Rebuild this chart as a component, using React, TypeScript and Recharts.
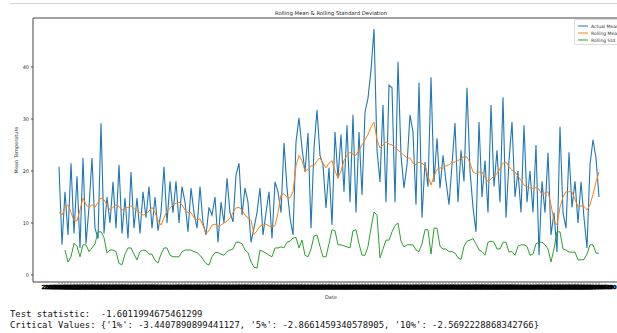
import { Line, LineChart, ReferenceLine, XAxis, YAxis } from "recharts";

// daily values
const actualMean = [
  20.8, 5.8, 16, 7.7, 21.5, 8, 19, 5.2, 22.5, 6,
  13, 22.5, 9, 7, 29.2, 8, 15, 10, 17.9, 9,
  21.2, 8, 14.8, 7, 19.8, 9, 14.8, 8, 16, 11,
  17, 9, 15, 8.5, 12, 20.8, 10, 18, 12, 18,
  10, 17, 14, 8.3, 16.7, 12, 9, 17, 10, 7.7,
  13, 11.5, 15, 6.3, 14, 10, 18.6, 12, 10.2, 19.2,
  21.5, 11.5, 16.7, 14, 6.3, 9, 12, 16.7, 7.7, 12,
  16, 7, 17.9, 16, 12, 25.4, 16.7, 11, 7.7, 25.6,
  30.2, 24.4, 19.8, 27.3, 9, 24.4, 31.7, 23, 21.2, 12.9,
  20.6, 9.6, 27.5, 18.6, 27, 16, 28.8, 14, 30.8, 12,
  27.5, 15.4, 31.3, 34, 39.4, 47.3, 24, 17.9, 32.7, 14,
  36.5, 36, 14, 41, 23, 16.7, 21.2, 30.8, 27.5, 13.5,
  37, 11, 21.7, 17, 38, 17.9, 26.3, 16.7, 23, 18,
  13.5, 21.2, 29.2, 14, 24, 18, 36, 20, 13, 8.3,
  29.4, 15, 22, 12, 32.7, 17, 24, 14, 34.2, 11,
  22, 29.4, 15, 20, 12, 28.8, 14, 20, 12, 25,
  3.8, 18, 12, 23.5, 7.7, 12, 4.4, 28.5, 12, 9,
  23.6, 13, 18, 10, 17.9, 11, 5.2, 21.2, 26, 22.5, 15,
];

const rollingMean = [
  12, 11.5, 13, 13.5, 12, 10.5, 10.4, 12.5, 14.8, 13.5,
  13, 13.5, 13, 14, 14.8, 14.5, 13.5, 12.5, 13, 13.5,
  13.2, 12.5, 12.8, 13, 13.3, 12.8, 12.3, 12, 11.5, 11.7,
  12.3, 13, 12, 10.5, 9.6, 11, 12.3, 12.8, 13.5, 13.8,
  14, 13.5, 12.5, 12, 12, 11, 10.6, 10.8, 9.5, 8,
  8.5, 9.6, 9.8, 9.3, 9.6, 10, 10.3, 11, 12, 12.9,
  13, 12.5, 11.5, 11, 10.5, 7.8, 8.5, 9.4, 9.6, 9.8,
  9.4, 9.2, 9.5, 12, 15.4, 15.6, 15, 14.8, 16, 21,
  23, 22, 20, 20.3, 21, 21, 22, 22.5, 21.5, 20.6,
  21.5, 22, 20, 18.6, 20, 22, 23, 23.6, 23.2, 23,
  24, 25, 26, 27, 28.5, 29.4, 26, 24.4, 25, 25.6,
  25.2, 25, 24.5, 24, 23.5, 23, 22.5, 22.5, 21.5, 21.2,
  21.7, 21.5, 21, 19, 17.3, 19, 20.3, 20.6, 20.5, 21,
  21.2, 21.7, 21.7, 22, 22.5, 22.7, 22.7, 21.5, 19.8, 19.5,
  19.8, 19.8, 18.8, 17.9, 18.5, 19, 19.5, 20.5, 21.5, 21.7,
  20.8, 20.2, 19.8, 19, 18.2, 17.3, 17, 16.7, 16.7, 16.8,
  16.5, 15.4, 15.8, 16, 13.5, 10.5, 9.6, 13, 15, 16,
  16, 16, 14.5, 13.1, 13.3, 13.2, 12.5, 13.5, 15.5, 17.9, 19.8,
];

const rollingStd = [
  null, null, 4.8, 2.5, 3.5, 6.1, 5.5, 3.5, 5.8, 5.8,
  4.5, 5.2, 6, 8.3, 8.3, 7.2, 4.2, 4.8, 4.8, 4.5,
  2.2, 2, 4, 5.2, 5.2, 4, 2.9, 4.5, 4.8, 4.7,
  4, 4, 2.8, 2.3, 4, 5.2, 5.2, 3.8, 3.5, 3.5,
  3.5, 4.5, 4.8, 4.8, 4.8, 4.5, 4.3, 3.8, 3, 2.2,
  1.9, 3.5, 4.3, 4.3, 4, 3.8, 4.5, 4.8, 5, 6.3,
  6.3, 6, 4.8, 4.3, 2.5, 1.5, 1.3, 4.8, 4.5, 4.2,
  3.8, 3.5, 5.2, 5.2, 5.4, 5.2, 6.3, 6.5, 7.1, 7.2,
  5.2, 6.7, 3.8, 3.5, 5, 7.5, 7.7, 5.5, 3.5, 3.5,
  6, 8.7, 8.5, 5.8, 5.8, 5.6, 5.4, 5.2, 8.5, 8.7,
  6, 3.8, 3.8, 5.5, 9, 12.1, 11.5, 3.3, 5, 6.7,
  6.7, 8.3, 9.5, 10, 6.5, 5.4, 5.8, 5.8, 5.8, 4.8,
  4.5, 6, 8.7, 8.7, 4, 9, 9, 5.5, 5, 5,
  4.5, 4.5, 4.2, 3.3, 3, 5.5, 6.5, 6.7, 7, 6,
  4.8, 4.5, 3.8, 6.3, 6.5, 6.3, 5, 5, 6.3, 6.3,
  4.4, 4.5, 3.8, 5.5, 5.8, 5.8, 5.5, 3.8, 4, 6,
  6.3, 6.3, 5.8, 5, 2.5, 5, 8.3, 8.3, 5, 4.8,
  4.4, 4.4, 4.4, 2.9, 2.9, 3, 4, 5.8, 5.8, 4.2, 4.2,
];

const yTicks = [0, 10, 20, 30, 40];
const Y_DOMAIN: [number, number] = [-1.35, 49.42];
const X_DOMAIN: [number, number] = [-8.667, 190];

const legendItems = [
  { name: "Actual Mean", color: "#1f77b4" },
  { name: "Rolling Mean", color: "#ff7f0e" },
  { name: "Rolling Std", color: "#2ca02c" },
];

const dayLabel = (i: number) => new Date(Date.UTC(2013, 0, 1 + i)).toISOString().slice(0, 10);

const chartData = actualMean.map((value, i) => ({
  idx: i,
  date: dayLabel(i),
  actual: value,
  mean: rollingMean[i],
  std: rollingStd[i],
}));
const xTicks = chartData.map((d) => d.idx);

export default function App() {
  return (
    <div
      style={{
        position: "absolute",
        left: 0,
        top: 0,
        width: 617,
        height: 333,
        overflow: "hidden",
        background: "#fff",
        fontFamily: "'DejaVu Sans', sans-serif",
      }}
    >
      <div style={{ position: "absolute", left: 10, right: 0, top: 3, borderTop: "1px solid #d6d6d6" }} />
      <div
        style={{
          position: "absolute",
          left: 33,
          width: 596,
          top: 10,
          textAlign: "center",
          fontSize: 5.3,
          lineHeight: "6px",
          color: "#222",
        }}
      >
        Rolling Mean &amp; Rolling Standard Deviation
      </div>

      <div style={{ position: "absolute", left: 0, top: 0 }}>
        <LineChart width={629} height={300} data={chartData} margin={{ top: 18, right: 0, bottom: 0, left: 0 }}>
          <XAxis
            type="number"
            dataKey="idx"
            domain={X_DOMAIN}
            allowDataOverflow
            ticks={xTicks}
            interval={0}
            tickFormatter={(i: number) => chartData[i]?.date ?? ""}
            tick={{ fontSize: 5.5, fill: "#000", fontWeight: "bold", stroke: "#000", strokeWidth: 0.4 }}
            tickSize={2}
            tickMargin={1}
            tickLine={{ stroke: "#888" }}
            axisLine={{ stroke: "#444" }}
            height={18}
            label={{ value: "Date", position: "insideBottom", offset: 1, fontSize: 5, fill: "#333" }}
          />
          <YAxis
            type="number"
            domain={Y_DOMAIN}
            allowDataOverflow
            ticks={yTicks}
            width={33}
            tickSize={2}
            tick={{ fontSize: 5, fill: "#333" }}
            tickLine={{ stroke: "#444" }}
            axisLine={{ stroke: "#444" }}
            label={{ value: "Mean Temperature", angle: -90, position: "center", fontSize: 5, fill: "#333" }}
          />
          <ReferenceLine y={Y_DOMAIN[1]} stroke="#444" strokeWidth={1} />
          <Line type="linear" dataKey="actual" stroke="#1f77b4" strokeWidth={1.1} dot={false} isAnimationActive={false} />
          <Line type="linear" dataKey="mean" stroke="#ff7f0e" strokeWidth={1} dot={false} isAnimationActive={false} />
          <Line type="linear" dataKey="std" stroke="#2ca02c" strokeWidth={1} dot={false} isAnimationActive={false} />
        </LineChart>
      </div>

      <div
        style={{
          position: "absolute",
          left: 574,
          top: 19,
          width: 60,
          height: 24,
          border: "1px solid #ddd",
          borderRadius: 2,
          background: "rgba(255,255,255,0.85)",
        }}
      >
        {legendItems.map((item, i) => (
          <div
            key={item.name}
            style={{ position: "absolute", left: 3, top: 3 + i * 7, height: 6, display: "flex", alignItems: "center" }}
          >
            <svg width={10} height={6} aria-hidden>
              <line x1="0" y1="3" x2="10" y2="3" stroke={item.color} strokeWidth={1} />
            </svg>
            <span style={{ marginLeft: 3, fontSize: 4.5, color: "#333", whiteSpace: "nowrap" }}>{item.name}</span>
          </div>
        ))}
      </div>

      <div
        style={{
          position: "absolute",
          left: 10,
          top: 309,
          fontFamily: "'DejaVu Sans Mono', monospace",
          fontSize: 8.9,
          lineHeight: "11px",
          color: "#111",
          whiteSpace: "pre",
        }}
      >
        {"Test statistic:  -1.6011994675461299\n"}
        {"Critical Values: {'1%': -3.4407890899441127, '5%': -2.8661459340578905, '10%': -2.5692228868342766}"}
      </div>
    </div>
  );
}
